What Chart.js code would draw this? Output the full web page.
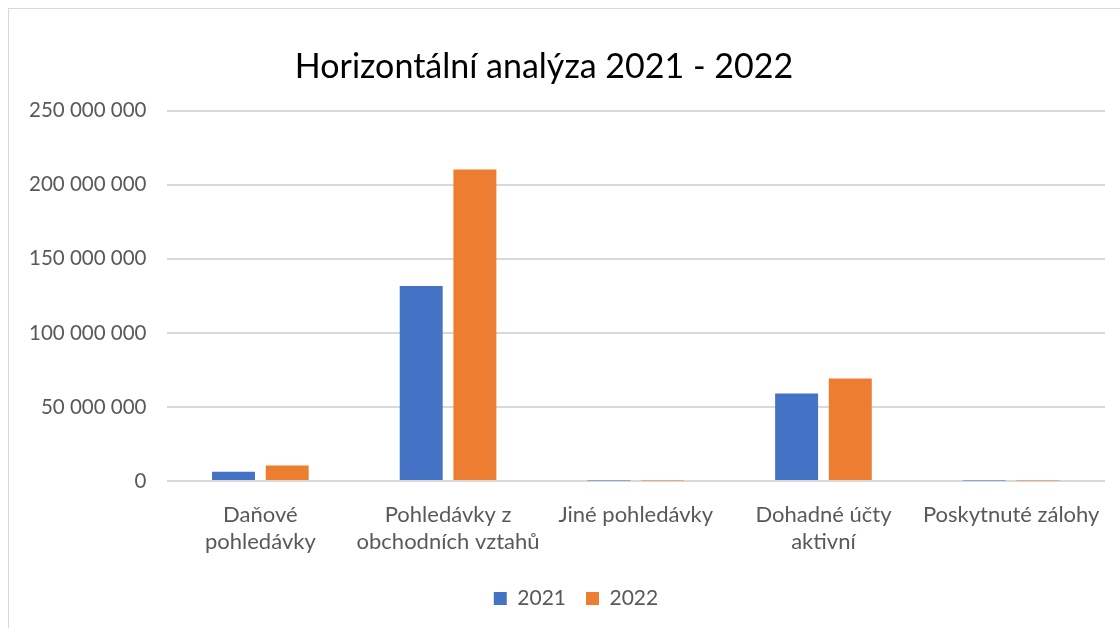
<!DOCTYPE html>
<html><head><meta charset="utf-8">
<script src="https://cdn.jsdelivr.net/npm/chart.js@4"></script>
<style>
html,body{margin:0;padding:0;background:#fff;overflow:hidden;}
#wrap{position:absolute;left:8px;top:8px;width:1112px;height:630px;border-left:1px solid #d9d9d9;border-top:1px solid #d9d9d9;box-sizing:border-box;}
canvas{display:block;}
</style></head><body>
<div id="wrap"><canvas id="c"></canvas></div>
<script>
const categories = [["Daňové","pohledávky"],["Pohledávky z","obchodních vztahů"],"Jiné pohledávky",["Dohadné účty","aktivní"],"Poskytnuté zálohy"];
const seriesNames = ["2021","2022"];
const values2021 = [6250000, 131700000, 300000, 59100000, 300000];
const values2022 = [10500000, 210400000, 300000, 69200000, 300000];
const yTicks = [0, 50000000, 100000000, 150000000, 200000000, 250000000];

const fmt = v => String(v).replace(/\B(?=(\d{3})+(?!\d))/g, " ");
const FONT = "Lato, 'Open Sans', sans-serif";

const shiftBoxes = {
  id: 'shiftBoxes',
  afterLayout(chart) {
    const t = chart.titleBlock;
    if (t) { t.left -= 13; t.right -= 13; }
    const l = chart.legend;
    if (l) { l.left += 19; l.right += 19; }
  }
};

new Chart(document.getElementById('c'), {
  type: 'bar',
  data: {
    labels: categories,
    datasets: [
      {label: seriesNames[0], data: values2021, backgroundColor: '#4472c4', barPercentage: 0.8, categoryPercentage: 0.572},
      {label: seriesNames[1], data: values2022, backgroundColor: '#ed7d31', barPercentage: 0.8, categoryPercentage: 0.572}
    ]
  },
  plugins: [shiftBoxes],
  options: {
    responsive: true,
    maintainAspectRatio: false,
    animation: false,
    layout: {padding: {left: 0, right: 15, top: 10, bottom: 19}},
    plugins: {
      title: {display: true, text: 'Horizontální analýza 2021 - 2022', color: '#000', font: {family: FONT, size: 34, weight: 'normal'}, padding: {top: 28, bottom: 23}},
      legend: {position: 'bottom', labels: {color: '#595959', font: {family: FONT, size: 21}, boxWidth: 13, boxHeight: 13, padding: 20}},
      tooltip: {enabled: false}
    },
    scales: {
      x: {
        grid: {display: false},
        border: {display: false},
        ticks: {color: '#595959', font: {family: FONT, size: 22, lineHeight: 1.25}, maxRotation: 0, autoSkip: false, padding: 12}
      },
      y: {
        min: 0, max: 250000000,
        afterBuildTicks: s => { s.ticks = yTicks.map(v => ({value: v})); },
        grid: {color: '#d9d9d9', lineWidth: 2, drawTicks: false},
        border: {display: false},
        ticks: {color: '#595959', font: {family: FONT, size: 20.5}, padding: 20, callback: v => fmt(v)}
      }
    }
  }
});
</script>
</body></html>
